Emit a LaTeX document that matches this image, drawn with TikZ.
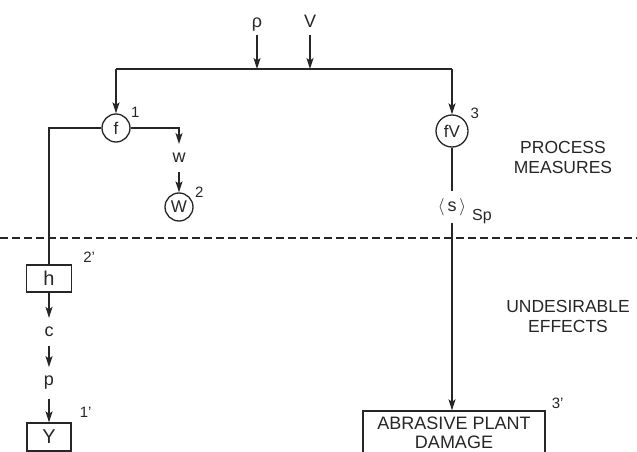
\documentclass[tikz,border=0pt]{standalone}
\usepackage{fontspec}
\setmainfont{Liberation Sans}
\usetikzlibrary{positioning,arrows.meta,calc}
\tikzset{
  % circled variable
  var/.style  = {circle, draw=black!85, line width=1.3pt, minimum size=28pt,
                 inner sep=1pt, text=black!85, font=\fontsize{17}{17}\selectfont},
  % boxed quantity / effect
  blk/.style  = {rectangle, draw=black!85, line width=1.3pt, align=center,
                 inner sep=2pt, text=black!85, font=\fontsize{20}{20}\selectfont},
  % letter sitting on a connector
  lbl/.style  = {inner xsep=2pt, inner ysep=9pt, text=black!85,
                 font=\fontsize{18}{18}\selectfont},
  % input letter at the top
  src/.style  = {inner sep=3pt, text height=13pt, text depth=4pt, text=black!85,
                 font=\fontsize{18}{18}\selectfont},
  % index number beside a node
  tag/.style  = {inner sep=1pt, text=black!85, font=\fontsize{15}{15}\selectfont},
  % region caption on the right
  note/.style = {align=center, inner sep=1pt, text=black!85,
                 font=\fontsize{17.5}{20}\selectfont},
  % connectors
  flow/.style = {-{Stealth[length=11pt,width=7pt,inset=2.5pt]}, line width=1.3pt, black!85},
  link/.style = {line width=1.3pt, black!85},
}

\begin{document}
\begin{tikzpicture}[x=1pt,y=-1pt]
  \useasboundingbox (0,0) rectangle (637,452);
  \clip (0,0) rectangle (637,452);

  % --- inputs and the split line ---
  \node[src] (rho) at (257,23.5) {ρ};
  \node[src] (V)   at (310,23.5) {V};
  \coordinate (jl) at (116,69);
  \coordinate (jr) at (452,69);

  \draw[flow] (rho) -- (rho |- jl);
  \draw[flow] (V) -- (V |- jl);
  \draw[link] (jl) -- (jr);

  % --- process measures ---
  \node[var] (f)  at (116,128) {f};
  \node[var, minimum size=32pt] (fV) at (452,131) {fV};
  \node[lbl] (w)  at (179,158) {w};
  \node[var] (W)  at (179,207) {W};
  \node[lbl, inner ysep=7pt, font=\fontsize{18}{18}\selectfont] (s) at (452,207)
       {$\langle\,$s$\,\rangle$};
  \node[tag, font=\fontsize{16}{16}\selectfont] (sp) at (482,217) {Sp};

  \node[tag] at ($(f.north east)+(9,-5)$)   {1};
  \node[tag] at ($(W.north east)+(10,-4)$)  {2};
  \node[tag] at ($(fV.north east)+(11,-6)$) {3};

  \draw[flow] (jl) -- (f);
  \draw[flow] (jr) -- (fV);
  \draw[flow] (f) -| (w);
  \draw[flow] (w) -- (W);
  \draw[link] (fV) -- (s);

  % --- boundary between the two regions ---
  \coordinate (dl) at (0,238);
  \coordinate (dr) at (637,238);
  \draw[link, dash pattern=on 8pt off 4pt] (dl) -- (dr);

  \node[note] (pm) at (563,157) {PROCESS\\MEASURES};
  \node[note] (ue) at (568,316) {UNDESIRABLE\\EFFECTS};

  % --- undesirable effects ---
  \node[blk, minimum width=45pt, minimum height=27pt] (h) at (49,278.5) {h};
  \node[lbl] (c) at (49,332) {c};
  \node[lbl] (p) at (49,383) {p};
  \node[blk, minimum width=44pt, minimum height=28pt] (Y) at (49,437) {Y};
  \node[blk, minimum width=182pt, minimum height=44pt,
        font=\fontsize{18}{19}\selectfont] (dmg) at (454,433)
       {ABRASIVE PLANT\\DAMAGE};

  \node[tag] at ($(h.north east)+(17,-7)$)   {2’};
  \node[tag] at ($(Y.north east)+(14,-10)$)  {1’};
  \node[tag] at ($(dmg.north east)+(12,-7)$) {3’};

  \draw[link] (f) -| (h);
  \draw[flow] (h) -- (c);
  \draw[flow] (c) -- (p);
  \draw[flow] (p) -- (Y);
  \draw[flow] (s) -- (s |- dmg.north);

\end{tikzpicture}
\end{document}
